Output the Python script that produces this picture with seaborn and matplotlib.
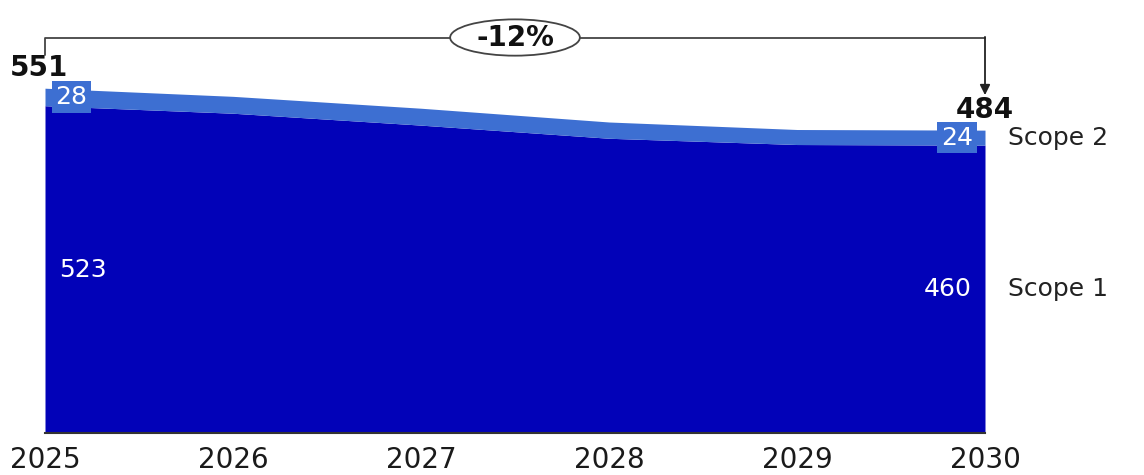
import matplotlib
matplotlib.use("Agg")
import matplotlib.pyplot as plt
from matplotlib.patches import Ellipse
import seaborn as sns
import numpy as np

years = [2025, 2026, 2027, 2028, 2029, 2030]
scope1 = [523, 511, 492, 471, 461, 460]
scope2 = [28, 27, 27, 26, 24, 24]
series_names = ["Scope 1", "Scope 2"]
change_label = "-12%"

c_scope1 = "#0202B8"
c_scope2 = "#3D6FD2"

sns.set_theme(style="white")
plt.rcParams["font.family"] = ["DejaVu Sans"]

fig = plt.figure(figsize=(11.44, 4.75), dpi=100)
ax = fig.add_axes([45 / 1144, (475 - 433) / 475, 940 / 1144, 413 / 475])

totals = np.array(scope1) + np.array(scope2)

ax.stackplot(years, scope1, scope2, colors=[c_scope1, c_scope2], linewidth=0)

ax.set_xlim(years[0], years[-1])
ax.set_ylim(0, 660)
ax.set_yticks([])
ax.set_xticks(years)
ax.set_xticklabels([str(y) for y in years], fontsize=20, color="#1a1a1a")
ax.tick_params(axis="x", length=0, pad=9)
sns.despine(ax=ax, left=True, right=True, top=True)
ax.spines["bottom"].set_color("#333333")
ax.spines["bottom"].set_linewidth(1.5)

# totals on top
ax.text(years[0] - 0.03, totals[0] + 10, str(totals[0]), fontsize=20, fontweight="bold",
        ha="center", va="bottom", color="#111111", clip_on=False)
ax.text(years[-1], totals[-1] + 10, str(totals[-1]), fontsize=20, fontweight="bold",
        ha="center", va="bottom", color="#111111", clip_on=False)

# scope 2 boxed values
ax.text(years[0] + 0.14, scope1[0] + scope2[0] / 2, str(scope2[0]), fontsize=18, color="white",
        ha="center", va="center",
        bbox=dict(boxstyle="square,pad=0.15", fc=c_scope2, ec="none"))
ax.text(years[-1] - 0.15, scope1[-1] + scope2[-1] / 2, str(scope2[-1]), fontsize=18, color="white",
        ha="center", va="center",
        bbox=dict(boxstyle="square,pad=0.15", fc=c_scope2, ec="none"))

# scope 1 values
ax.text(years[0] + 0.2, 260, str(scope1[0]), fontsize=18, color="white", ha="center", va="center")
ax.text(years[-1] - 0.2, 230, str(scope1[-1]), fontsize=18, color="white", ha="center", va="center")

# series names on the right
ax.text(years[-1] + 0.12, scope1[-1] + scope2[-1] / 2, series_names[1], fontsize=18,
        color="#222222", ha="left", va="center", clip_on=False)
ax.text(years[-1] + 0.12, 230, series_names[0], fontsize=18,
        color="#222222", ha="left", va="center", clip_on=False)

# change bracket
y_br = 632
ax.plot([years[0], years[0], years[-1]], [604, y_br, y_br], color="#444444", lw=1.3, clip_on=False)
ax.annotate("", xy=(years[-1], 540), xytext=(years[-1], y_br + 1),
            arrowprops=dict(arrowstyle="-|>", color="#222222", lw=1.3, mutation_scale=15,
                            shrinkA=0, shrinkB=0),
            annotation_clip=False)
ax.add_patch(Ellipse((2027.5, y_br), 0.69, 58, fc="white", ec="#444444", lw=1.3,
                     clip_on=False, zorder=3))
ax.text(2027.5, y_br, change_label, fontsize=20, fontweight="bold", ha="center", va="center",
        color="#111111", zorder=4)

fig.savefig("out.png", dpi=100)
